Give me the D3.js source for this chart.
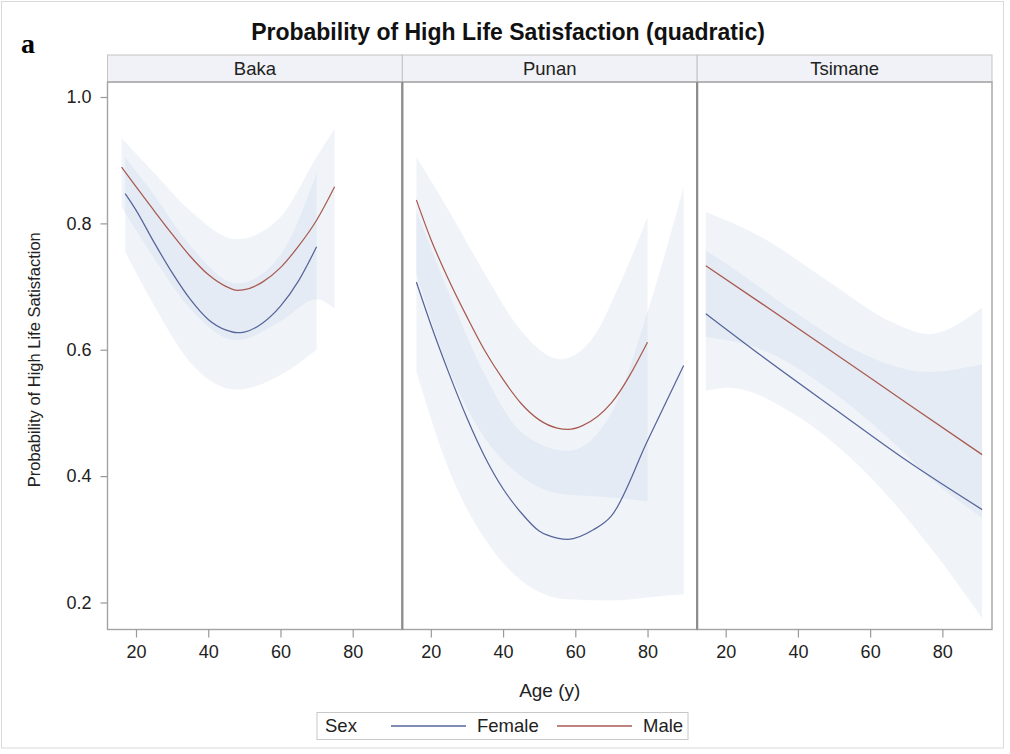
<!DOCTYPE html>
<html><head><meta charset="utf-8">
<script src="https://cdn.jsdelivr.net/npm/d3@7"></script>
<style>body{margin:0;background:#fff}svg{display:block;font-family:"Liberation Sans",Arial,sans-serif}</style>
</head><body><svg id="c" width="1010" height="754"></svg>
<script>
// ---------- data ----------
const panelNames = ["Baka", "Punan", "Tsimane"];
const sexes = ["Female", "Male"];
const xTicks = [20, 40, 60, 80];
const yTicks = [0.2, 0.4, 0.6, 0.8, 1.0];
const titleText = "Probability of High Life Satisfaction (quadratic)";
const yLabel = "Probability of High Life Satisfaction";
const xLabel = "Age (y)";
const legendTitle = "Sex";

// fitted curves: [age, probability]
const bakaFemale = [[17,0.847],[20,0.821],[25,0.770],[30,0.722],[35,0.680],[40,0.648],[45,0.631],[48,0.627],[50,0.628],[55,0.642],[60,0.669],[65,0.709],[70,0.763]];
const bakaMale = [[16,0.889],[20,0.858],[25,0.820],[30,0.783],[35,0.748],[40,0.719],[45,0.700],[48,0.694],[50,0.695],[55,0.707],[60,0.730],[65,0.764],[70,0.805],[75,0.858]];
const punanFemale = [[16,0.707],[20,0.640],[25,0.563],[30,0.492],[35,0.430],[40,0.380],[45,0.342],[50,0.313],[55,0.302],[58,0.300],[65,0.315],[70,0.337],[80,0.456],[90,0.575]];
const punanMale = [[16,0.837],[20,0.775],[25,0.710],[30,0.652],[35,0.598],[40,0.553],[45,0.515],[50,0.489],[55,0.476],[58,0.474],[62,0.480],[70,0.516],[80,0.612]];
const tsimaneFemale = [[14.5,0.657],[30,0.590],[50,0.507],[70,0.425],[91,0.347]];
const tsimaneMale = [[14.5,0.733],[30,0.673],[50,0.595],[70,0.516],[91,0.434]];

// confidence bands: [age, lower, upper]
const bakaFemaleBand = [[17,0.755,0.905],[25,0.670,0.845],[35,0.580,0.765],[48,0.537,0.705],[60,0.560,0.750],[70,0.600,0.880]];
const bakaMaleBand = [[16,0.825,0.935],[25,0.745,0.880],[35,0.665,0.820],[48,0.615,0.775],[60,0.645,0.810],[70,0.680,0.905],[75,0.665,0.950]];
const punanFemaleBand = [[16,0.565,0.820],[25,0.410,0.690],[35,0.300,0.560],[45,0.235,0.470],[58,0.205,0.440],[70,0.203,0.500],[80,0.208,0.660],[90,0.213,0.858]];
const punanMaleBand = [[16,0.720,0.905],[25,0.570,0.820],[35,0.460,0.720],[45,0.400,0.630],[56,0.372,0.585],[65,0.368,0.620],[72,0.365,0.700],[80,0.360,0.810]];
const tsimaneFemaleBand = [[14.5,0.535,0.757],[20.5,0.540,0.735],[39,0.498,0.660],[57.5,0.413,0.595],[76,0.292,0.565],[91,0.175,0.577]];
const tsimaneMaleBand = [[14.5,0.620,0.818],[30,0.600,0.778],[48,0.540,0.710],[67,0.450,0.641],[76,0.400,0.625],[91,0.334,0.667]];

const series = [
  {panel:"Baka", sex:"Female", fit:bakaFemale, band:bakaFemaleBand},
  {panel:"Baka", sex:"Male", fit:bakaMale, band:bakaMaleBand},
  {panel:"Punan", sex:"Female", fit:punanFemale, band:punanFemaleBand},
  {panel:"Punan", sex:"Male", fit:punanMale, band:punanMaleBand},
  {panel:"Tsimane", sex:"Female", fit:tsimaneFemale, band:tsimaneFemaleBand},
  {panel:"Tsimane", sex:"Male", fit:tsimaneMale, band:tsimaneMaleBand}
];

// ---------- layout ----------
const svg = d3.select("#c");
const plotLeft = 107.5, plotRight = 992, plotTop = 82, plotBottom = 629.5, headerTop = 55;
const panelW = (plotRight - plotLeft) / 3;
const lineColor = d3.scaleOrdinal().domain(sexes).range(["#56659a", "#a85a50"]);
const panelX = d3.scaleBand().domain(panelNames).range([plotLeft, plotRight]);
const x = d3.scaleLinear().domain([20, 80]).range([28.5, 245.2]);
const y = d3.scaleLinear().domain([0.2, 1.0]).range([602.5, 97]);
const textColor = "#222";

svg.append("rect").attr("width",1010).attr("height",754).attr("fill","#fff");
svg.append("rect").attr("x",1.5).attr("y",1.5).attr("width",1002).attr("height",746.5)
  .attr("fill","none").attr("stroke","#dadada").attr("stroke-width",1);

// title and panel letter
svg.append("text").attr("x",508).attr("y",40).attr("text-anchor","middle")
  .attr("font-size",23).attr("font-weight","bold").attr("fill","#111").text(titleText);
svg.append("text").attr("x",21).attr("y",53).attr("font-family","'Liberation Serif','Times New Roman',serif")
  .attr("font-size",28).attr("font-weight","bold").attr("fill","#000").text("a");

const defs = svg.append("defs");
panelNames.forEach(p => {
  const px = panelX(p);
  defs.append("clipPath").attr("id","clip-"+p).append("rect")
    .attr("x",0).attr("y",plotTop).attr("width",panelW).attr("height",plotBottom-plotTop);
  const g = svg.append("g").attr("transform",`translate(${px},0)`);
  // header
  g.append("rect").attr("x",0).attr("y",headerTop).attr("width",panelW).attr("height",plotTop-headerTop)
    .attr("fill","#f1f2f7").attr("stroke","#c4c4c4").attr("stroke-width",1);
  g.append("text").attr("x",panelW/2).attr("y",74.5).attr("text-anchor","middle")
    .attr("font-size",18.5).attr("fill",textColor).text(p);
  const inner = g.append("g").attr("clip-path",`url(#clip-${p})`);
  const area = d3.area().curve(d3.curveMonotoneX).x(d=>x(d[0])).y0(d=>y(d[1])).y1(d=>y(d[2]));
  const line = d3.line().curve(d3.curveMonotoneX).x(d=>x(d[0])).y(d=>y(d[1]));
  const ss = series.filter(s => s.panel === p);
  inner.selectAll("path.band").data(ss).join("path").attr("class","band")
    .attr("d", s => area(s.band)).attr("fill","#b3c7e3").attr("fill-opacity",0.2);
  inner.selectAll("path.fit").data(ss).join("path").attr("class","fit")
    .attr("d", s => line(s.fit)).attr("fill","none")
    .attr("stroke", s => lineColor(s.sex)).attr("stroke-width",1.25);
  // frame
  g.append("rect").attr("x",0).attr("y",plotTop).attr("width",panelW).attr("height",plotBottom-plotTop)
    .attr("fill","none").attr("stroke","#a3a3a3").attr("stroke-width",1.4);
  // x axis
  const xa = g.append("g").attr("transform",`translate(0,${plotBottom})`)
    .call(d3.axisBottom(x).tickValues(xTicks).tickSize(8).tickPadding(8).tickSizeOuter(0));
  xa.select(".domain").remove();
  xa.selectAll(".tick line").attr("stroke","#999").attr("stroke-width",1.2);
  xa.selectAll(".tick text").attr("font-size",18).attr("fill",textColor).attr("font-family","'Liberation Sans',Arial,sans-serif");
});

// dividers between panels (darker)
svg.selectAll("line.div").data(panelNames.slice(1)).join("line").attr("class","div")
  .attr("x1",d=>panelX(d)).attr("x2",d=>panelX(d)).attr("y1",plotTop).attr("y2",plotBottom)
  .attr("stroke","#8c8c8c").attr("stroke-width",2.2);

// y axis
const ya = svg.append("g").attr("transform",`translate(${plotLeft},0)`)
  .call(d3.axisLeft(y).tickValues(yTicks).tickFormat(d3.format(".1f")).tickSize(7).tickPadding(9).tickSizeOuter(0));
ya.select(".domain").remove();
ya.selectAll(".tick line").attr("stroke","#999").attr("stroke-width",1.2);
ya.selectAll(".tick text").attr("font-size",18).attr("fill",textColor).attr("font-family","'Liberation Sans',Arial,sans-serif");

// axis labels
svg.append("text").attr("transform",`translate(40,${(plotTop+plotBottom)/2 + 4}) rotate(-90)`)
  .attr("text-anchor","middle").attr("font-size",16.5).attr("fill",textColor).text(yLabel);
svg.append("text").attr("x",(plotLeft+plotRight)/2).attr("y",697).attr("text-anchor","middle")
  .attr("font-size",19).attr("fill",textColor).text(xLabel);

// legend
const lg = svg.append("g");
lg.append("rect").attr("x",317).attr("y",712.5).attr("width",371).attr("height",27)
  .attr("fill","#fff").attr("stroke","#c8c8c8").attr("stroke-width",1);
lg.append("text").attr("x",325).attr("y",732).attr("font-size",18.5).attr("fill",textColor).text(legendTitle);
const legX = d3.scaleOrdinal().domain(sexes).range([391, 557]);
sexes.forEach(s => {
  lg.append("line").attr("x1",legX(s)).attr("x2",legX(s)+75).attr("y1",726).attr("y2",726)
    .attr("stroke",lineColor(s)).attr("stroke-width",1.3);
  lg.append("text").attr("x",legX(s)+86).attr("y",732).attr("font-size",18.5).attr("fill",textColor).text(s);
});
</script></body></html>
